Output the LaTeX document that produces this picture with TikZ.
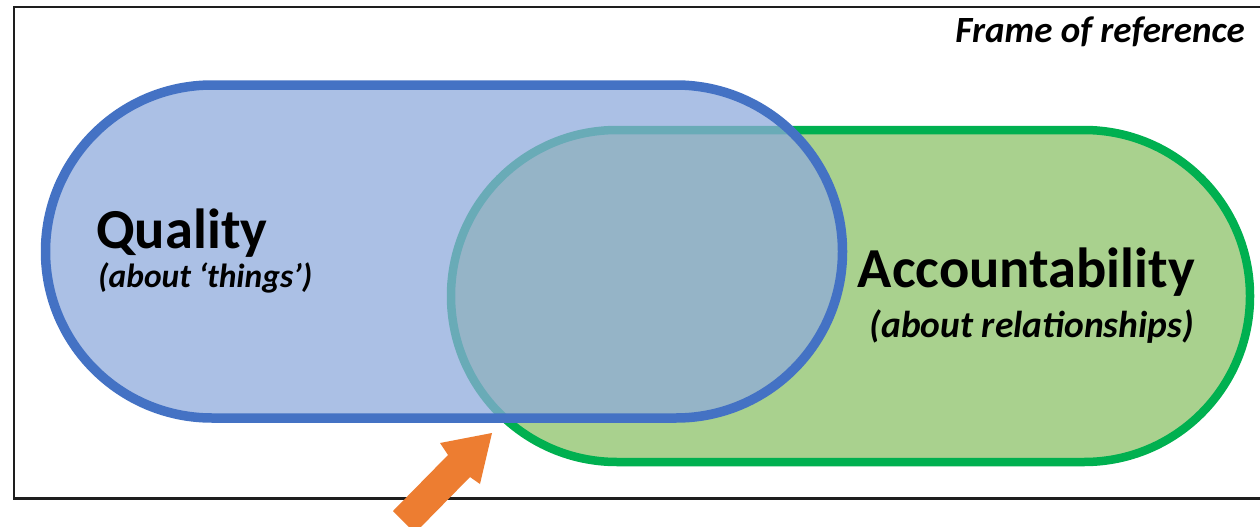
\documentclass[tikz,border=0pt]{standalone}
\usepackage{fontspec}
\setmainfont{Carlito}
\definecolor{qualityline}{HTML}{4472C4}
\definecolor{qualityfill}{HTML}{8FAADC}
\definecolor{accline}{HTML}{00B050}
\definecolor{accfill}{HTML}{A9D18E}
\definecolor{pointer}{HTML}{ED7D31}
\definecolor{framecol}{HTML}{1E1E1E}
\tikzset{
  framebox/.style={draw=framecol, line width=2.3pt},
  qualityset/.style={draw=qualityline, line width=9.5pt, fill=qualityfill, fill opacity=0.74, rounded corners=166.5pt},
  accset/.style={draw=accline, line width=8.5pt, fill=accfill, rounded corners=166pt},
  title/.style={inner sep=0pt, font=\fontsize{56.5}{62}\selectfont\bfseries},
  subtitle/.style={inner sep=0pt, font=\fontsize{#1}{#1}\selectfont\bfseries\itshape},
  corner/.style={inner sep=0pt, font=\fontsize{37}{42}\selectfont\bfseries\itshape}
}
\begin{document}
\begin{tikzpicture}[x=1pt,y=-1pt]
\useasboundingbox (0,0) rectangle (1260,527);
\fill[white] (0,0) rectangle (1260,527);
\begin{scope}
\clip (0,0) rectangle (1260,527);
% outer frame, open to the right
\draw[framebox] (14,7) rectangle (1275,498.5);
% the two overlapping sets
\draw[accset] (451,130) rectangle (1250,462);
\draw[qualityset] (45.5,85) rectangle (842.5,418);
% block arrow pointing at the overlap
\coordinate (tip) at (492,433);
\fill[pointer] (tip) -- (440,443) -- (448,455) -- (393,511) -- (415,533) -- (470,477) -- (480,484) -- cycle;
\end{scope}
% labels
\node[corner, anchor=base east] (frame) at (1245,43) {Frame of reference};
\node[title, anchor=base west] (quality) at (96,248) {Quality};
\node[subtitle=33.5, anchor=base west] (qualitysub) at (98,287) {(about ‘things’)};
\node[title, anchor=base east] (acc) at (1195,287) {Accountability};
\node[subtitle=37.5, anchor=base east] (accsub) at (1194,337) {(about relationships)};
\end{tikzpicture}
\end{document}
